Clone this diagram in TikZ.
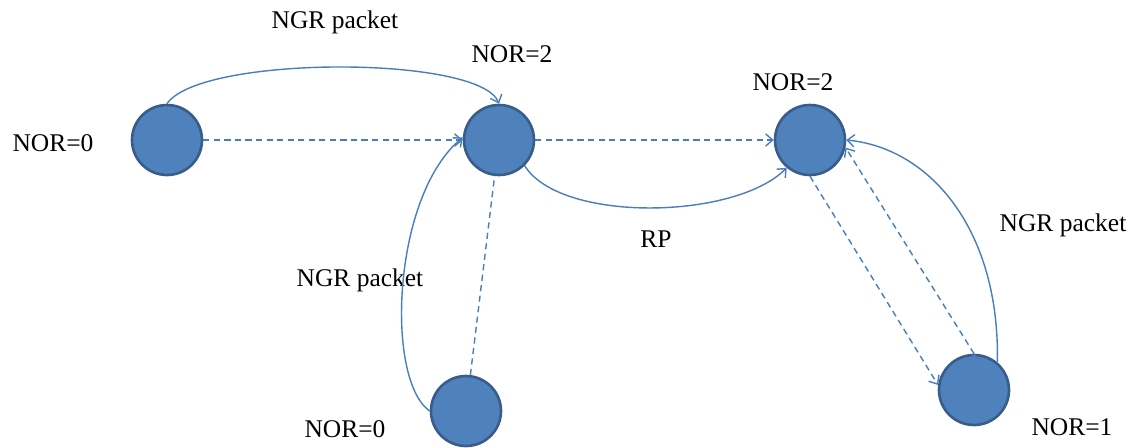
\documentclass[tikz,border=0pt]{standalone}
\usepackage{fontspec}
\setmainfont{Liberation Serif}
\usetikzlibrary{arrows.meta}
\definecolor{nodeblue}{HTML}{4F81BD}
\definecolor{rimblue}{HTML}{385D8A}
\definecolor{linkblue}{HTML}{4A7EBB}

\begin{document}
\begin{tikzpicture}
  [x=0.02cm,y=-0.02cm,>={Straight Barb[length=4pt,width=7pt]},
   station/.style={circle,fill=nodeblue,draw=rimblue,line width=1.5pt,minimum size=1.4cm,inner sep=0pt},
   lbl/.style={font=\fontsize{14.5}{17}\selectfont,inner sep=0pt},
   link/.style={draw=linkblue,line width=0.8pt},
   dsh/.style={link,dash pattern=on 3.5pt off 2.5pt}]
  \useasboundingbox (0,0) rectangle (1139,447);
  % stations
  \node[station] (n1) at (167,140) {};
  \node[station] (n2) at (499,140) {};
  \node[station] (n3) at (810,140) {};
  \node[station] (n4) at (466,411) {};
  \node[station] (n5) at (974,390) {};
  % labels
  \node[lbl] (nor1) at (53,143) {NOR=0};
  \node[lbl] (nor2) at (512,54) {NOR=2};
  \node[lbl] (nor3) at (793,82) {NOR=2};
  \node[lbl] (nor4) at (345,429) {NOR=0};
  \node[lbl] (nor5) at (1072,427) {NOR=1};
  \node[lbl] (ngr1) at (335,22) {NGR packet};
  \node[lbl] (ngr2) at (360,280) {NGR packet};
  \node[lbl] (ngr3) at (1063,225) {NGR packet};
  \node[lbl] (rp) at (656,239) {RP};
  % dashed links
  \path [->,dsh]
   (n1) edge (n2)
   (n2) edge (n3)
   (n3.south) edge (n5.172)
   (n5.north) edge (n3.-12);
  \draw[dsh] (n4) -- (n2);
  % solid links
  \draw[->,link] (n1.north) .. controls (200,55) and (480,55) .. (n2.north);
  \draw[->,link] (n2.-45) .. controls (560,223) and (735,220) .. (n3.-130);
  \draw[->,link] (n4.west) .. controls (385,380) and (392,195) .. (n2.176);
  \draw[->,link] (n5.50) .. controls (1000,230) and (930,148) .. (n3.east);
\end{tikzpicture}
\end{document}
